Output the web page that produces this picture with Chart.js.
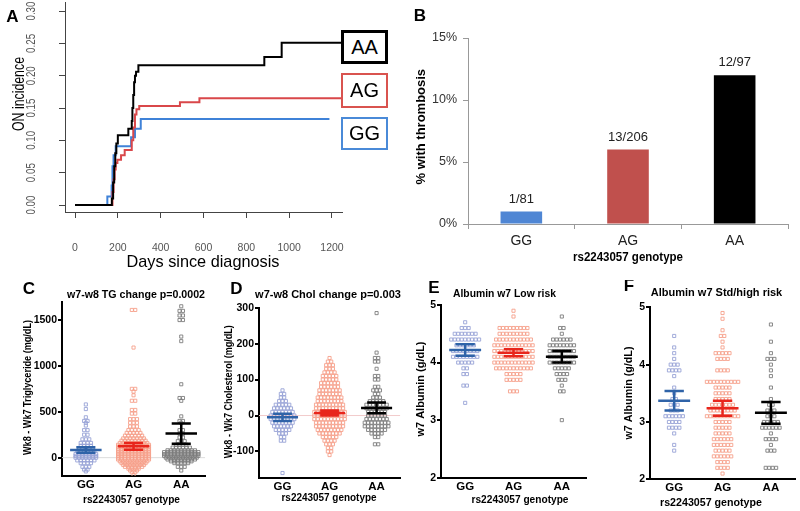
<!DOCTYPE html>
<html>
<head>
<meta charset="utf-8">
<script src="https://cdn.jsdelivr.net/npm/chart.js@4.4.0/dist/chart.umd.min.js"></script>
<style>
body { margin: 0; background: #fff; width: 800px; height: 511px; overflow: hidden; position: relative; }
canvas { position: absolute; }
.leg { position: absolute; box-sizing: border-box; background: #fff; color: #000;
       font: normal 20px "Liberation Sans", Arial, sans-serif; text-align: center; }
</style>
</head>
<body>
<canvas id="cA" width="400" height="280" style="left:0;top:0"></canvas>
<canvas id="cB" width="400" height="275" style="left:400px;top:0"></canvas>
<canvas id="cC" width="210" height="231" style="left:0;top:280px"></canvas>
<canvas id="cD" width="205" height="231" style="left:200px;top:280px"></canvas>
<canvas id="cE" width="200" height="231" style="left:400px;top:280px"></canvas>
<canvas id="cF" width="200" height="231" style="left:600px;top:280px"></canvas>
<div class="leg" style="left:341px;top:30px;width:47px;height:34px;line-height:28px;border:3px solid #000">AA</div>
<div class="leg" style="left:341px;top:73px;width:47px;height:35px;line-height:30px;border:2.5px solid #d9534f">AG</div>
<div class="leg" style="left:341px;top:117px;width:47px;height:33px;line-height:28px;border:2.5px solid #4a8ad8">GG</div>
<script>
const FONT = '"Liberation Sans", Arial, sans-serif';
Chart.defaults.font.family = FONT;

const genotypes = ['GG', 'AG', 'AA'];

// Panel A - cumulative ON incidence (step curves)
const aDaysAA = [0, 168, 172, 178, 183, 188, 193, 200, 249, 265, 268, 272, 276, 280, 285, 296, 884, 965, 1260];
const aIncAA  = [0, 0, 0.01, 0.035, 0.06, 0.08, 0.095, 0.108, 0.118, 0.13, 0.15, 0.17, 0.19, 0.2, 0.206, 0.216, 0.229, 0.251, 0.251];
const aDaysAG = [0, 171, 175, 180, 185, 190, 198, 215, 232, 265, 272, 280, 287, 300, 490, 581, 1260];
const aIncAG  = [0, 0, 0.02, 0.04, 0.055, 0.065, 0.07, 0.077, 0.085, 0.1, 0.12, 0.14, 0.148, 0.153, 0.159, 0.165, 0.165];
const aDaysGG = [0, 151, 171, 175, 180, 190, 262, 280, 307, 1188];
const aIncGG  = [0, 0.013, 0.03, 0.06, 0.077, 0.091, 0.105, 0.118, 0.133, 0.133];
const aXTicks = [0, 200, 400, 600, 800, 1000, 1200];
const aYTicks = [0, 0.05, 0.10, 0.15, 0.20, 0.25, 0.30];

// Panel B - % with thrombosis
const bValues = [1, 6, 12];
const bLabels = ['1/81', '13/206', '12/97'];
const bYTicks = [0, 5, 10, 15];

// Panels C-F: [value, number of patients at that value]
const cGG = [[580,1],[530,1],[440,1],[400,2],[380,1],[350,1],[300,2],[250,2],[200,3],[160,4],[130,4],[100,5],[70,6],[40,7],[20,7],[0,7],[-30,6],[-60,4],[-100,3],[-130,2],[-150,1]];
const cAG = [[1610,2],[1200,1],[750,2],[720,1],[680,1],[620,2],[520,2],[480,2],[420,3],[380,3],[340,3],[300,4],[270,5],[240,6],[210,7],[185,8],[160,9],[140,10],[120,10],[100,10],[80,10],[60,10],[40,10],[20,10],[0,10],[-20,10],[-40,9],[-60,8],[-80,7],[-100,6],[-120,4],[-140,3],[-160,2],[-190,1]];
const cAA = [[1650,1],[1600,2],[1550,2],[1500,2],[1320,1],[1270,1],[800,1],[650,2],[620,1],[450,1],[400,2],[380,1],[300,2],[260,2],[220,2],[180,3],[140,4],[110,6],[80,9],[60,11],[40,11],[20,11],[0,10],[-20,9],[-40,7],[-60,5],[-100,3],[-140,1]];
const cMean = [84, 123, 262];
const cSem = [30, 38, 110];
const cYTicks = [0, 500, 1000, 1500];

const dGG = [[70,1],[60,2],[50,2],[40,3],[30,5],[20,6],[10,7],[0,8],[-10,8],[-20,7],[-30,6],[-40,5],[-50,3],[-60,2],[-70,2],[-160,1]];
const dAG = [[160,1],[150,2],[140,3],[130,3],[120,4],[110,5],[100,5],[90,6],[80,6],[70,7],[60,7],[50,8],[40,8],[30,9],[20,9],[10,10],[0,10],[-10,10],[-20,9],[-30,9],[-40,8],[-50,7],[-60,5],[-70,4],[-80,3],[-90,2],[-100,2],[-110,1]];
const dAA = [[285,1],[175,1],[160,2],[150,2],[130,1],[110,2],[100,2],[80,2],[70,3],[60,2],[50,3],[40,5],[30,7],[20,7],[10,6],[0,6],[-10,7],[-20,8],[-30,8],[-40,6],[-50,4],[-60,2],[-80,2]];
const dMean = [-5, 7, 21];
const dSem = [10, 7, 15];
const dYTicks = [-100, 0, 100, 200, 300];

const eGG = [[4.7,1],[4.6,3],[4.5,7],[4.4,9],[4.3,6],[4.2,8],[4.1,8],[4.0,5],[3.9,2],[3.8,2],[3.6,2],[3.3,1]];
const eAG = [[4.9,1],[4.8,1],[4.6,9],[4.5,9],[4.4,11],[4.3,12],[4.2,12],[4.1,12],[4.0,12],[3.9,11],[3.8,5],[3.7,5],[3.5,3]];
const eAA = [[4.8,1],[4.6,2],[4.5,1],[4.4,6],[4.3,8],[4.2,8],[4.1,8],[4.0,8],[3.9,5],[3.8,4],[3.7,3],[3.6,1],[3.5,2],[3.0,1]];
const eMean = [4.22, 4.17, 4.10];
const eSem = [0.10, 0.06, 0.10];

const fGG = [[4.5,1],[4.3,1],[4.2,1],[4.1,1],[4.0,3],[3.9,4],[3.8,1],[3.6,1],[3.5,1],[3.4,2],[3.3,3],[3.2,3],[3.1,6],[3.0,4],[2.9,4],[2.8,1],[2.6,1],[2.5,1]];
const fAG = [[4.9,1],[4.8,1],[4.6,1],[4.5,2],[4.4,1],[4.3,1],[4.2,5],[4.1,4],[3.9,4],[3.7,10],[3.6,5],[3.5,5],[3.4,5],[3.3,7],[3.2,8],[3.1,10],[3.0,5],[2.9,5],[2.8,5],[2.7,6],[2.6,6],[2.5,5],[2.4,6],[2.3,4],[2.2,4],[2.1,1]];
const fAA = [[4.7,1],[4.4,1],[4.2,1],[4.1,3],[4.0,1],[3.9,1],[3.8,1],[3.6,1],[3.4,1],[3.3,2],[3.2,3],[3.1,3],[3.0,5],[2.9,6],[2.8,1],[2.7,4],[2.6,1],[2.5,3],[2.2,4]];
const fMean = [3.37, 3.24, 3.16];
const fSem = [0.17, 0.13, 0.19];
const albTicks = [2, 3, 4, 5];

const dotColors = ['#97a3d6', '#f6a08b', '#7d7d7d'];
const barColors = ['#2f63a8', '#e8261c', '#000000'];

// free text (titles, letters) drawn on each canvas, page coordinates
const textPlugin = {
  id: 'texts',
  afterDraw(chart, args, o) {
    if (!o.items) return;
    const ctx = chart.ctx;
    o.items.forEach(t => {
      ctx.save();
      ctx.font = t.font + ' ' + FONT;
      ctx.fillStyle = t.color || '#000';
      ctx.textAlign = 'center';
      ctx.textBaseline = 'middle';
      ctx.translate(t.x - o.left, t.y - o.top);
      if (t.rot) ctx.rotate(-Math.PI / 2);
      if (t.w) ctx.fillText(t.text, 0, 0, t.w); else ctx.fillText(t.text, 0, 0);
      ctx.restore();
    });
  }
};

// mean +/- SEM bars and zero reference line
const errPlugin = {
  id: 'errbars',
  beforeDatasetsDraw(chart, args, o) {
    if (!o.zero) return;
    const {x, y} = chart.scales, ctx = chart.ctx;
    const py = y.getPixelForValue(0);
    ctx.save();
    ctx.strokeStyle = o.zero; ctx.lineWidth = 1;
    ctx.beginPath(); ctx.moveTo(x.left, py); ctx.lineTo(x.right, py); ctx.stroke();
    ctx.restore();
  },
  afterDatasetsDraw(chart, args, o) {
    if (!o.mean) return;
    const {x, y} = chart.scales, ctx = chart.ctx;
    ctx.save();
    ctx.lineWidth = 2.5;
    o.mean.forEach((m, i) => {
      const cx = x.getPixelForValue(i);
      const wm = x.getPixelForValue(i + 0.33) - cx, wc = x.getPixelForValue(i + 0.2) - cx;
      const ym = y.getPixelForValue(m), yh = y.getPixelForValue(m + o.sem[i]), yl = y.getPixelForValue(m - o.sem[i]);
      ctx.strokeStyle = barColors[i];
      ctx.beginPath();
      ctx.moveTo(cx - wm, ym); ctx.lineTo(cx + wm, ym);
      ctx.moveTo(cx - wc, yh); ctx.lineTo(cx + wc, yh);
      ctx.moveTo(cx - wc, yl); ctx.lineTo(cx + wc, yl);
      ctx.moveTo(cx, yh); ctx.lineTo(cx, yl);
      ctx.stroke();
    });
    ctx.restore();
  }
};
Chart.register(textPlugin, errPlugin);

function toXY(xs, ys) {
  return xs.map((d, i) => ({x: d, y: ys[i]}));
}

function expand(rows, idx, step) {
  const pts = [];
  rows.forEach(([v, n]) => {
    for (let k = 0; k < n; k++) pts.push({x: idx + (k - (n - 1) / 2) * step, y: v});
  });
  return pts;
}

// Panel A
new Chart(document.getElementById('cA'), {
  type: 'line',
  data: {
    datasets: [
      {data: toXY(aDaysAA, aIncAA), borderColor: '#000', order: 0},
      {data: toXY(aDaysAG, aIncAG), borderColor: '#d9474a', order: 1},
      {data: toXY(aDaysGG, aIncGG), borderColor: '#3f82d8', order: 2}
    ].map(d => Object.assign(d, {stepped: true, borderWidth: 2, pointRadius: 0}))
  },
  options: {
    animation: false, responsive: false, events: [],
    layout: {padding: {top: 2, right: 58, left: 0, bottom: 0}},
    plugins: {
      legend: {display: false}, tooltip: {enabled: false},
      texts: {left: 0, top: 0, items: [
        {text: 'A', x: 12.5, y: 17.5, font: 'bold 17px'},
        {text: 'ON incidence', x: 19.5, y: 94, rot: true, font: '16px', w: 74},
        {text: 'Days since diagnosis', x: 203, y: 262, font: '17px', w: 153}
      ]}
    },
    scales: {
      x: {
        type: 'linear', min: -46.7, max: 1246.7,
        afterBuildTicks: s => { s.ticks = aXTicks.map(v => ({value: v})); },
        afterFit: s => { s.height = 68; },
        ticks: {callback: v => String(v), color: '#555', font: {size: 10.5}, padding: 24, maxRotation: 0},
        grid: {drawOnChartArea: false, tickLength: 6, color: '#444'},
        border: {color: '#444', width: 1}
      },
      y: {
        min: -0.0108, max: 0.314,
        afterBuildTicks: s => { s.ticks = aYTicks.map(v => ({value: v})); },
        afterFit: s => { s.width = 65; },
        ticks: {display: false},
        grid: {drawOnChartArea: false, tickLength: 6, color: '#444'},
        border: {color: '#444', width: 1}
      }
    }
  },
  plugins: [{
    id: 'rotTicks',
    afterDraw(chart) {
      const y = chart.scales.y, ctx = chart.ctx;
      ctx.save();
      ctx.font = '12px ' + FONT; ctx.fillStyle = '#555';
      ctx.textAlign = 'center'; ctx.textBaseline = 'middle';
      aYTicks.forEach(v => {
        ctx.save();
        ctx.translate(32, y.getPixelForValue(v));
        ctx.rotate(-Math.PI / 2);
        ctx.fillText(v.toFixed(2), 0, 0, 19);
        ctx.restore();
      });
      ctx.restore();
    }
  }]
});

// Panel B
new Chart(document.getElementById('cB'), {
  type: 'bar',
  data: {
    labels: genotypes,
    datasets: [{data: bValues, backgroundColor: ['#4f86d4', '#c0504d', '#000000'], barPercentage: 0.39, categoryPercentage: 1}]
  },
  options: {
    animation: false, responsive: false, events: [],
    layout: {padding: {top: 38, right: 12, left: 0, bottom: 0}},
    plugins: {
      legend: {display: false}, tooltip: {enabled: false},
      texts: {left: 400, top: 0, items: [
        {text: 'B', x: 420, y: 16.5, font: 'bold 17px'},
        {text: '% with thrombosis', x: 421, y: 126.7, rot: true, font: 'bold 13px', w: 123},
        {text: 'rs2243057 genotype', x: 628, y: 258, font: 'bold 12px', w: 110}
      ]}
    },
    scales: {
      x: {
        afterFit: s => { s.height = 51; },
        ticks: {color: '#222', font: {size: 14}, padding: 4},
        grid: {offset: true, drawOnChartArea: false, tickLength: 5, color: '#999'},
        border: {color: '#999', width: 1}
      },
      y: {
        min: 0, max: 15,
        afterBuildTicks: s => { s.ticks = bYTicks.map(v => ({value: v})); },
        afterFit: s => { s.width = 68; },
        ticks: {callback: v => v + '%', color: '#333', font: {size: 12.5}, padding: 6},
        grid: {drawOnChartArea: false, tickLength: 5, color: '#999'},
        border: {color: '#999', width: 1}
      }
    }
  },
  plugins: [{
    id: 'barLabels',
    afterDatasetsDraw(chart) {
      const ctx = chart.ctx;
      ctx.save();
      ctx.font = '13px ' + FONT; ctx.fillStyle = '#222';
      ctx.textAlign = 'center'; ctx.textBaseline = 'middle';
      chart.getDatasetMeta(0).data.forEach((bar, i) => ctx.fillText(bLabels[i], bar.x, bar.y - 12.5));
      ctx.restore();
    }
  }]
});

// Panels C-F
function dotPanel(id, pos, groups, yMin, yMax, yTicks, mean, sem, zero, items) {
  new Chart(document.getElementById(id), {
    type: 'scatter',
    data: {
      datasets: groups.map((g, i) => ({
        data: expand(g, i, 0.072),
        pointStyle: 'rect', pointRadius: 2.2, pointBorderWidth: 0.9,
        pointBorderColor: dotColors[i], pointBackgroundColor: 'rgba(0,0,0,0)'
      }))
    },
    options: {
      animation: false, responsive: false, events: [],
      layout: {padding: {top: pos.top, right: pos.right, left: 0, bottom: 0}},
      plugins: {
        legend: {display: false}, tooltip: {enabled: false},
        errbars: {mean: mean, sem: sem, zero: zero},
        texts: {left: pos.left, top: 280, items: items}
      },
      scales: {
        x: {
          type: 'linear', min: -0.5, max: 2.5,
          afterBuildTicks: s => { s.ticks = [0, 1, 2].map(v => ({value: v})); },
          afterFit: s => { s.height = pos.xh; },
          ticks: {callback: v => genotypes[v], color: '#000', font: {size: 11.5, weight: 'bold'}, padding: -6, maxRotation: 0},
          grid: {display: false},
          border: {color: '#000', width: 2}
        },
        y: {
          min: yMin, max: yMax,
          afterBuildTicks: s => { s.ticks = yTicks.map(v => ({value: v})); },
          afterFit: s => { s.width = pos.yw; },
          ticks: {callback: v => String(v), color: '#000', font: {size: 10.5, weight: 'bold'}, padding: 1},
          grid: {drawOnChartArea: false, tickLength: 4, color: '#000', lineWidth: 2},
          border: {color: '#000', width: 2}
        }
      }
    }
  });
}

dotPanel('cC', {left: 0, top: 21.7, right: 3, yw: 62, xh: 35}, [cGG, cAG, cAA], -200, 1700, cYTicks, cMean, cSem, '#dcdcdc', [
  {text: 'C', x: 29, y: 289, font: 'bold 17px'},
  {text: 'w7-w8 TG change p=0.0002', x: 136, y: 295, font: 'bold 11px', w: 138},
  {text: 'Wk8 - Wk7 Triglyceride (mg/dL)', x: 27.5, y: 387.5, rot: true, font: 'bold 11px', w: 135},
  {text: 'rs2243057 genotype', x: 131.5, y: 500, font: 'bold 11px', w: 97}
]);
dotPanel('cD', {left: 200, top: 27.7, right: 3, yw: 59, xh: 33.3}, [dGG, dAG, dAA], -173, 300, dYTicks, dMean, dSem, '#f2cccc', [
  {text: 'D', x: 236.5, y: 289, font: 'bold 17px'},
  {text: 'w7-w8 Chol change p=0.003', x: 328, y: 295, font: 'bold 11px', w: 150},
  {text: 'Wk8 - Wk7 Cholesterol (mg/dL)', x: 229, y: 391.7, rot: true, font: 'bold 11px', w: 133},
  {text: 'rs2243057 genotype', x: 329, y: 498.3, font: 'bold 11px', w: 95}
]);
dotPanel('cE', {left: 400, top: 25, right: 14, yw: 41, xh: 33.3}, [eGG, eAG, eAA], 2, 5, albTicks, eMean, eSem, null, [
  {text: 'E', x: 434, y: 288.5, font: 'bold 17px'},
  {text: 'Albumin w7 Low risk', x: 504.5, y: 294, font: 'bold 11px', w: 103},
  {text: 'w7 Albumin (g/dL)', x: 421, y: 389, rot: true, font: 'bold 11px', w: 95},
  {text: 'rs2243057 genotype', x: 520, y: 500, font: 'bold 11px', w: 97}
]);
dotPanel('cF', {left: 600, top: 27.3, right: 3, yw: 50, xh: 31.7}, [fGG, fAG, fAA], 2, 5, albTicks, fMean, fSem, null, [
  {text: 'F', x: 629, y: 286, font: 'bold 17px'},
  {text: 'Albumin w7 Std/high risk', x: 716.5, y: 293, font: 'bold 11px', w: 143},
  {text: 'w7 Albumin (g/dL)', x: 629, y: 393, rot: true, font: 'bold 11px', w: 93},
  {text: 'rs2243057 genotype', x: 711, y: 502.7, font: 'bold 11px', w: 102}
]);
</script>
</body>
</html>
